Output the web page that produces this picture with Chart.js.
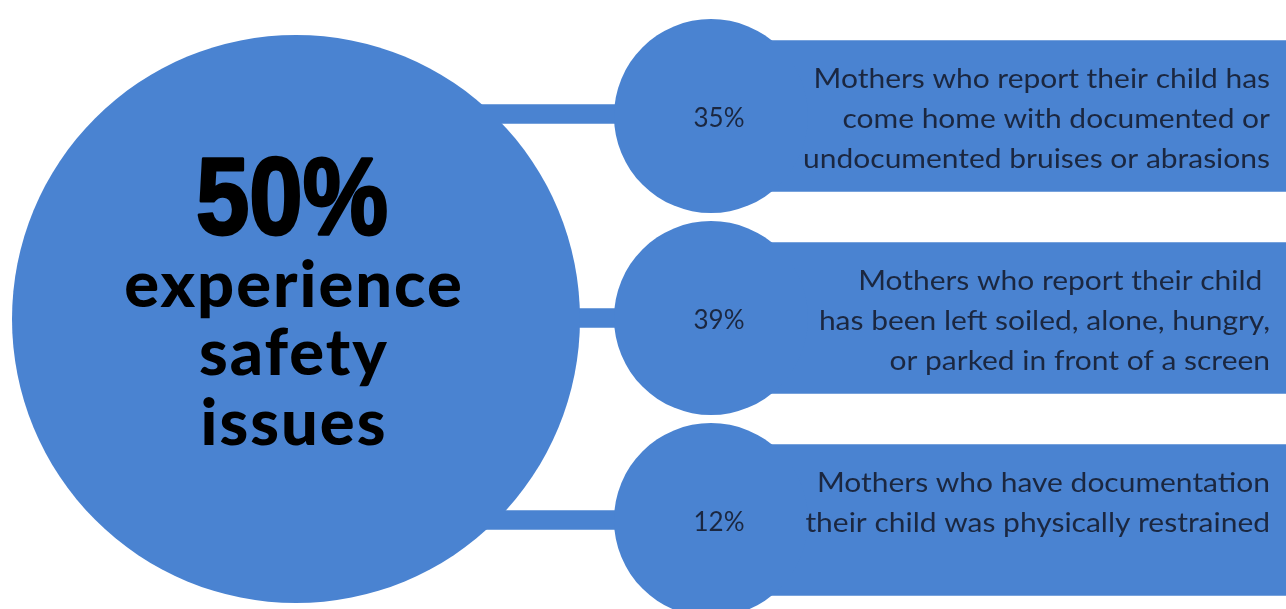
<!DOCTYPE html>
<html>
<head>
<meta charset="utf-8">
<script src="https://cdn.jsdelivr.net/npm/chart.js@4.4.1/dist/chart.umd.min.js"></script>
<style>
  html, body { margin: 0; padding: 0; background: #ffffff; }
  #wrap { width: 1286px; height: 609px; }
</style>
</head>
<body>
<div id="wrap"><canvas id="chart" width="1286" height="609"></canvas></div>
<script>
// headline figure
const headlineValue = 50;
const headlineWords = ['experience', 'safety', 'issues'];

// breakdown rows
const rowPercents = [35, 39, 12];
const rowStatements = [
  ['Mothers who report their child has', 'come home with documented or', 'undocumented bruises or abrasions'],
  ['Mothers who report their child ', 'has been left soiled, alone, hungry,', 'or parked in front of a screen'],
  ['Mothers who have documentation', 'their child was physically restrained']
];

// layout (in canvas units, the scales run 0..width / 0..height)
const W = 1286, H = 609;
const bigCircle = { x: 296, y: 319, r: 284 };
const rowY = [116, 318, 520];
const smallCircleX = 711, smallCircleR = 97;
const panelStart = 770, panelHeight = 151;
const linkStart = 470, linkEnd = 650, linkY = [114, 318, 520], linkHeight = 19;

const BLUE = '#4a83d1';
const INK = '#1b2740';

const bubbles = [{ x: bigCircle.x, y: bigCircle.y, r: bigCircle.r }]
  .concat(rowY.map(y => ({ x: smallCircleX, y: y, r: smallCircleR })));
const panels = rowY.map(y => ({ x: [panelStart, W], y: y }));
const links = linkY.map(y => ({ x: [linkStart, linkEnd], y: y }));

// draw text squeezed/stretched horizontally around an anchor point
function drawScaled(ctx, text, x, y, sx, stroke) {
  ctx.save();
  ctx.translate(x, y);
  ctx.scale(sx, 1);
  if (stroke) ctx.strokeText(text, 0, 0);
  ctx.fillText(text, 0, 0);
  ctx.restore();
}

const textPlugin = {
  id: 'infoText',
  afterDatasetsDraw(chart) {
    const ctx = chart.ctx;
    const xs = chart.scales.x, ys = chart.scales.y;
    ctx.save();
    ctx.fillStyle = '#000';
    ctx.strokeStyle = '#000';
    ctx.lineJoin = 'round';
    ctx.textAlign = 'center';
    ctx.textBaseline = 'alphabetic';

    // big figure, condensed
    ctx.font = "bold 109px 'Liberation Sans', Arial, sans-serif";
    ctx.lineWidth = 3;
    drawScaled(ctx, headlineValue + '%', xs.getPixelForValue(292), ys.getPixelForValue(234), 0.88, true);

    ctx.font = "900 65px Lato, sans-serif";
    ctx.letterSpacing = '2px';
    const wordBase = [307, 375, 445];
    headlineWords.forEach((w, i) => {
      ctx.fillText(w, xs.getPixelForValue(294), ys.getPixelForValue(wordBase[i]));
    });
    ctx.letterSpacing = '0px';

    // row labels
    ctx.fillStyle = INK;
    ctx.font = "400 26px Lato, sans-serif";
    rowPercents.forEach((p, i) => {
      ctx.textAlign = 'center';
      ctx.fillText(p + '%', xs.getPixelForValue(719), ys.getPixelForValue(rowY[i] + 11));
    });

    ctx.font = "400 27px Lato, sans-serif";
    ctx.textAlign = 'right';
    rowStatements.forEach((lines, i) => {
      lines.forEach((t, j) => {
        drawScaled(ctx, t, xs.getPixelForValue(1270), ys.getPixelForValue(rowY[i] - 28 + j * 40), 1.11, false);
      });
    });
    ctx.restore();
  }
};

new Chart(document.getElementById('chart'), {
  type: 'bubble',
  data: {
    datasets: [
      {
        type: 'bar',
        indexAxis: 'y',
        data: links,
        backgroundColor: BLUE,
        barThickness: linkHeight,
        borderWidth: 0,
        grouped: false,
        order: 3
      },
      {
        type: 'bar',
        indexAxis: 'y',
        data: panels,
        backgroundColor: BLUE,
        barThickness: panelHeight,
        borderWidth: 0,
        grouped: false,
        order: 2
      },
      {
        type: 'bubble',
        data: bubbles,
        backgroundColor: BLUE,
        borderWidth: 0,
        hoverRadius: 0,
        clip: false,
        order: 1
      }
    ]
  },
  options: {
    responsive: false,
    animation: false,
    events: [],
    layout: { padding: 0, autoPadding: false },
    plugins: { legend: { display: false }, tooltip: { enabled: false } },
    scales: {
      x: { type: 'linear', min: 0, max: W, display: false, offset: false },
      y: { type: 'linear', min: 0, max: H, reverse: true, display: false, offset: false }
    }
  },
  plugins: [textPlugin]
});
</script>
</body>
</html>
